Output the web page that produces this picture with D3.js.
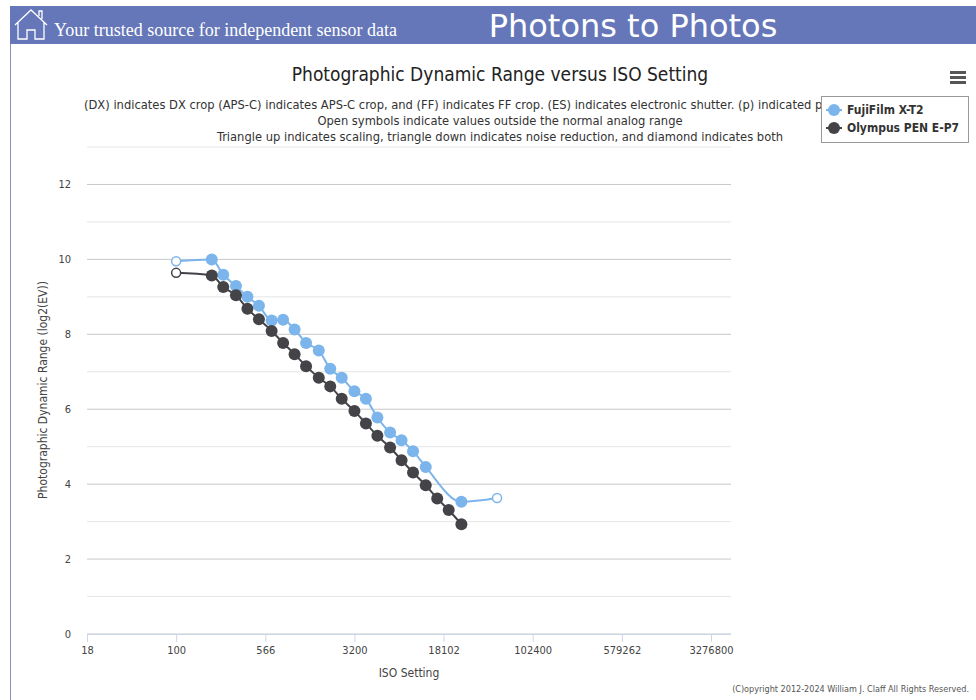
<!DOCTYPE html>
<html><head><meta charset="utf-8">
<script src="https://cdn.jsdelivr.net/npm/d3@7"></script>
<style>body{margin:0;background:#fff;font-family:"DejaVu Sans Condensed","DejaVu Sans",sans-serif;}</style>
</head><body><svg id="c" width="976" height="700"></svg>
<script>
const isoTicks=[17.68,100,566,3200,18102,102400,579262,3276800];
const isoTickLabels=["18","100","566","3200","18102","102400","579262","3276800"];
const fujiISO=[100,200,250,320,400,500,640,800,1000,1250,1600,2000,2500,3200,4000,5000,6400,8000,10000,12800,25600,51200];
const fujiPDR=[9.95,10.0,9.59,9.29,9.0,8.76,8.37,8.39,8.13,7.77,7.57,7.08,6.84,6.48,6.28,5.78,5.38,5.17,4.88,4.46,3.53,3.63];
const fujiOpen=[true,false,false,false,false,false,false,false,false,false,false,false,false,false,false,false,false,false,false,false,false,true];
const olyISO=[100,200,250,320,400,500,640,800,1000,1250,1600,2000,2500,3200,4000,5000,6400,8000,10000,12800,16000,20000,25600];
const olyPDR=[9.64,9.57,9.26,9.04,8.68,8.4,8.09,7.77,7.47,7.15,6.84,6.61,6.28,5.95,5.62,5.29,4.98,4.64,4.31,3.97,3.62,3.31,2.93];
const olyOpen=olyISO.map((d,i)=>i===0);
const yTicks=[0,2,4,6,8,10,12];

const svg=d3.select("#c");
svg.append("rect").attr("x",10).attr("y",6).attr("width",966).attr("height",38).attr("fill","#6577b8");
svg.append("line").attr("x1",10.5).attr("x2",10.5).attr("y1",44).attr("y2",700).attr("stroke","#8892b8");
svg.append("path").attr("d","M15,25 L31,10 L47,25 M18,22 L18,39 L27,39 L27,30 L35,30 L35,39 L44,39 L44,22 M39,16 L39,11 L42,11 L42,19")
 .attr("fill","none").attr("stroke","#fff").attr("stroke-width",1.3);
svg.append("text").attr("x",54).attr("y",36).attr("fill","#fff").attr("font-family","Liberation Serif,serif").attr("font-size",18).text("Your trusted source for independent sensor data");
svg.append("text").attr("x",633).attr("y",37).attr("text-anchor","middle").attr("fill","#fff").attr("font-family","DejaVu Sans").attr("font-size",32).text("Photons to Photos");

svg.append("text").attr("x",500).attr("y",81).attr("text-anchor","middle").attr("font-size",19).attr("fill","#222").text("Photographic Dynamic Range versus ISO Setting");
const sub=["(DX) indicates DX crop (APS-C) indicates APS-C crop, and (FF) indicates FF crop. (ES) indicates electronic shutter. (p) indicated p","Open symbols indicate values outside the normal analog range","Triangle up indicates scaling, triangle down indicates noise reduction, and diamond indicates both"];
sub.forEach((s,i)=>svg.append("text").attr("x",i==0?84:500).attr("y",109+i*16).attr("text-anchor",i==0?"start":"middle").attr("font-size",12.8).attr("fill","#333").text(s));
[72,77,82].forEach(y=>svg.append("rect").attr("x",950).attr("y",y-1).attr("width",16).attr("height",3).attr("fill","#555"));

const xs=d3.scaleLog().base(2).domain([17.68,3276800]).range([87,711]);
const y=d3.scaleLinear().domain([0,13]).range([634,147]);
const L=87,R=731;
for(let v=0;v<=13;v++){svg.append("line").attr("x1",L).attr("x2",R).attr("y1",y(v)).attr("y2",y(v)).attr("stroke",v%2?"#e6e6e6":"#c8c8c8");}
const ya=svg.append("g").attr("transform",`translate(${L},0)`).call(d3.axisLeft(y).tickValues(yTicks).tickSize(0).tickPadding(16));
ya.select(".domain").remove();ya.selectAll("text").attr("font-size",11).attr("fill","#444").attr("font-family","DejaVu Sans Condensed");
const xa=svg.append("g").attr("transform","translate(0,634)").call(d3.axisBottom(xs).tickValues(isoTicks).tickFormat((d,i)=>isoTickLabels[i]).tickSize(8).tickPadding(4));
xa.select(".domain").attr("d",`M${L},0.5H${R}`).attr("stroke","#ccd6eb");
xa.selectAll("line").attr("stroke","#ccd6eb");xa.selectAll("text").attr("font-size",11).attr("fill","#444").attr("font-family","DejaVu Sans Condensed");
svg.append("text").attr("x",409).attr("y",677).attr("text-anchor","middle").attr("font-size",12).attr("fill","#444").text("ISO Setting");
svg.append("text").attr("transform","translate(47,390) rotate(-90)").attr("text-anchor","middle").attr("font-size",12).attr("fill","#444").text("Photographic Dynamic Range (log2(EV))");

function series(iso,v,open,col){
 const pts=iso.map((d,i)=>[xs(d),y(v[i]),open[i]]);
 svg.append("path").attr("d",d3.line().curve(d3.curveMonotoneX)(pts)).attr("fill","none").attr("stroke",col).attr("stroke-width",2);
 svg.selectAll(null).data(pts).enter().append("circle").attr("cx",d=>d[0]).attr("cy",d=>d[1]).attr("r",d=>d[2]?4.5:6)
  .attr("fill",d=>d[2]?"#fff":col).attr("stroke",col).attr("stroke-width",d=>d[2]?1.5:0);
}
series(fujiISO,fujiPDR,fujiOpen,"#7cb5ec");
series(olyISO,olyPDR,olyOpen,"#434348");

svg.append("rect").attr("x",821.5).attr("y",96.5).attr("width",147).attr("height",46).attr("fill","#fff").attr("stroke","#999");
[["FujiFilm X-T2","#7cb5ec"],["Olympus PEN E-P7","#434348"]].forEach((d,i)=>{
 const yy=110+i*18;
 svg.append("line").attr("x1",826).attr("x2",842).attr("y1",yy).attr("y2",yy).attr("stroke",d[1]).attr("stroke-width",2);
 svg.append("circle").attr("cx",834).attr("cy",yy).attr("r",6).attr("fill",d[1]);
 svg.append("text").attr("x",847).attr("y",yy+4).attr("font-size",12).attr("font-weight","bold").attr("fill","#333").text(d[0]);
});
svg.append("text").attr("x",969).attr("y",692).attr("text-anchor","end").attr("font-size",9).attr("fill","#555").text("(C)opyright 2012-2024 William J. Claff All Rights Reserved.");
</script></body></html>
